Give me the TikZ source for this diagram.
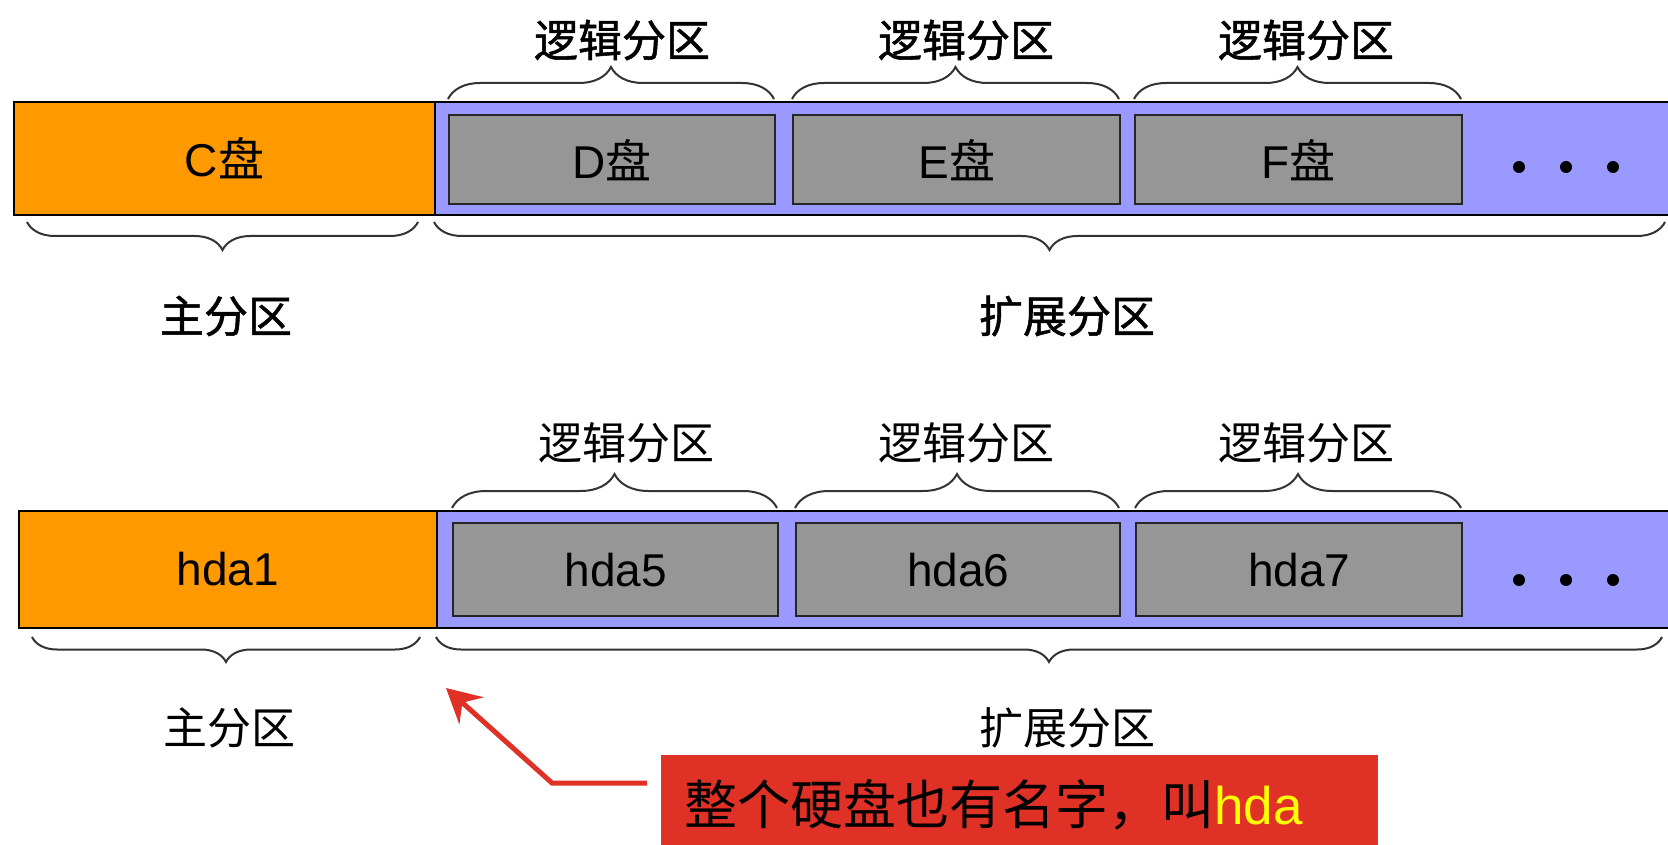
\documentclass[tikz,border=0pt]{standalone}
\usepackage{fontspec}
\setmainfont{Liberation Sans}
\newfontfamily\cjk{Noto Sans CJK SC}
\newfontfamily\cjkb[FakeBold=1.2]{Noto Sans CJK SC}
\usetikzlibrary{decorations.pathreplacing,arrows.meta}
\definecolor{diskorange}{HTML}{FF9900}
\definecolor{diskpurple}{HTML}{9999FF}
\definecolor{diskgray}{HTML}{969696}
\definecolor{notered}{HTML}{E03127}
\definecolor{noteyellow}{HTML}{FFFF00}
\tikzset{
  bigfont/.style={font=\fontsize{46}{50}\selectfont},
  primbox/.style={draw=black, line width=1.8, fill=diskorange, anchor=north west, inner sep=0, bigfont},
  extbox/.style={draw=black, line width=1.8, fill=diskpurple, anchor=north west, inner sep=0},
  logbox/.style={draw=black!85, line width=2.4, fill=diskgray, anchor=north west, inner sep=0, bigfont},
  dotmark/.style={circle, fill=black, inner sep=0, minimum size=12},
  bracedeco/.style={decorate, decoration={brace, amplitude=#1}, draw=black!80, line width=2},
  toplabel/.style={font=\fontsize{44}{48}\selectfont\cjkb},
  lightlabel/.style={font=\fontsize{44}{48}\selectfont\cjk},
  notebox/.style={fill=notered, anchor=north west, inner sep=0, minimum width=717, minimum height=95},
  redarrow/.style={draw=notered, line width=5, -{Stealth[width=36,length=34,inset=12]}},
}
\begin{document}
\begin{tikzpicture}[x=1pt,y=-1pt]
\useasboundingbox[fill=white] (0,0) rectangle (1668,845);

% ---------- Row 1 ----------
\node[extbox, minimum width=1245, minimum height=113] (ext1) at (434,101) {};
\node[primbox, minimum width=421, minimum height=113] (C) at (13,101) {C\cjk 盘};
\node[logbox, minimum width=326, minimum height=89] (D) at (448,114) {D\cjk 盘};
\node[logbox, minimum width=327, minimum height=89] (E) at (792,114) {E\cjk 盘};
\node[logbox, minimum width=327, minimum height=89] (F) at (1134,114) {F\cjk 盘};
\node[dotmark] (d11) at (1519,167) {};
\node[dotmark] (d12) at (1566,167) {};
\node[dotmark] (d13) at (1613,167) {};

\coordinate (b1a) at (448,99);  \coordinate (b1b) at (774,99);
\coordinate (b2a) at (792,99);  \coordinate (b2b) at (1119,99);
\coordinate (b3a) at (1134,99); \coordinate (b3b) at (1461,99);
\draw[bracedeco=32] (b1a) -- (b1b);
\draw[bracedeco=32] (b2a) -- (b2b);
\draw[bracedeco=32] (b3a) -- (b3b);
\node[toplabel] (l1) at (622,40) {逻辑分区};
\node[toplabel] (l2) at (966,40) {逻辑分区};
\node[toplabel] (l3) at (1306,40) {逻辑分区};

\coordinate (p1a) at (418,222); \coordinate (p1b) at (27,222);
\coordinate (x1a) at (1665,222); \coordinate (x1b) at (434,222);
\draw[bracedeco=28] (p1a) -- (p1b);
\draw[bracedeco=28] (x1a) -- (x1b);
\node[toplabel] (m1) at (226,316) {主分区};
\node[toplabel] (e1) at (1067,316) {扩展分区};

% ---------- Row 2 ----------
\node[extbox, minimum width=1243, minimum height=117] (ext2) at (436,510) {};
\node[primbox, minimum width=418, minimum height=117] (h1) at (18,510) {hda1};
\node[logbox, minimum width=325, minimum height=93] (h5) at (452,522) {hda5};
\node[logbox, minimum width=324, minimum height=93] (h6) at (795,522) {hda6};
\node[logbox, minimum width=326, minimum height=93] (h7) at (1135,522) {hda7};
\node[dotmark] (d21) at (1519,580) {};
\node[dotmark] (d22) at (1566,580) {};
\node[dotmark] (d23) at (1613,580) {};

\coordinate (c1a) at (452,508);  \coordinate (c1b) at (777,508);
\coordinate (c2a) at (795,508);  \coordinate (c2b) at (1119,508);
\coordinate (c3a) at (1135,508); \coordinate (c3b) at (1461,508);
\draw[bracedeco=34] (c1a) -- (c1b);
\draw[bracedeco=34] (c2a) -- (c2b);
\draw[bracedeco=34] (c3a) -- (c3b);
\node[lightlabel] (k1) at (626,443) {逻辑分区};
\node[lightlabel] (k2) at (966,443) {逻辑分区};
\node[lightlabel] (k3) at (1306,443) {逻辑分区};

\coordinate (p2a) at (420,637); \coordinate (p2b) at (32,637);
\coordinate (x2a) at (1662,637); \coordinate (x2b) at (436,637);
\draw[bracedeco=25] (p2a) -- (p2b);
\draw[bracedeco=25] (x2a) -- (x2b);
\node[lightlabel] (m2) at (229,728) {主分区};
\node[lightlabel] (e2) at (1067,728) {扩展分区};

% ---------- Note ----------
\node[notebox] (note) at (661,755) {};
\node[anchor=west, inner sep=0, font=\fontsize{53}{56}\selectfont] (notetext) at (684,805)
  {\cjk 整个硬盘也有名字，叫\textcolor{noteyellow}{\rmfamily hda}};
\coordinate (arrS) at (647,783);
\coordinate (arrK) at (552,783);
\coordinate (arrT) at (446,688);
\draw[redarrow] (arrS) -- (arrK) -- (arrT);
\end{tikzpicture}
\end{document}
